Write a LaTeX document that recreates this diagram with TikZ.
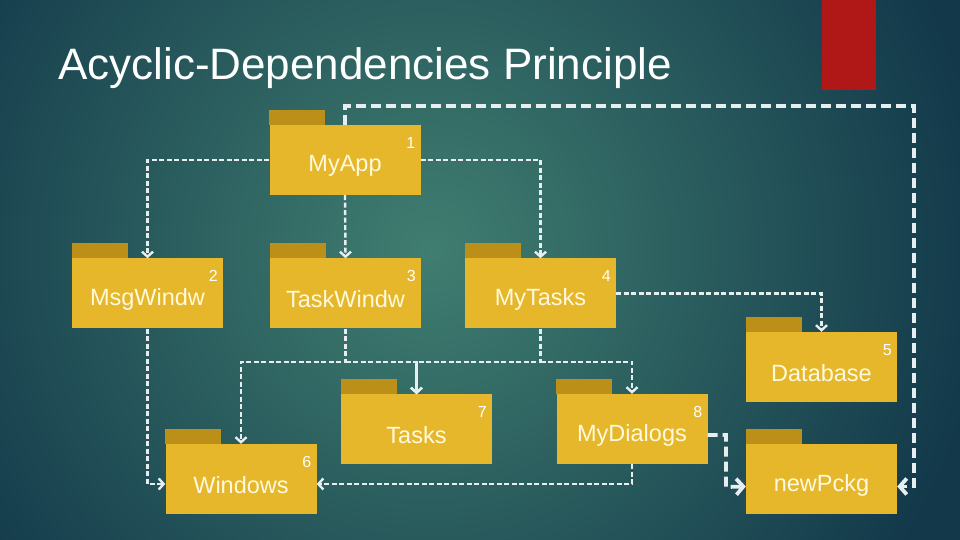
\documentclass[tikz,border=0pt]{standalone}
\usepackage{fontspec}
\setmainfont{Liberation Sans}
\usetikzlibrary{arrows.meta,calc}
\definecolor{bgout}{RGB}{18,56,74}
\definecolor{bgin}{RGB}{64,126,112}
\definecolor{fbody}{RGB}{230,183,42}
\definecolor{ftab}{RGB}{187,143,24}
\definecolor{ftext}{RGB}{255,250,222}
\definecolor{conn}{RGB}{230,238,240}
\definecolor{redbar}{RGB}{176,24,24}
\tikzset{
  folderbody/.style={fill=fbody, draw=none, minimum width=151pt, minimum height=70pt, inner sep=0pt},
  foldertab/.style={fill=ftab, draw=none},
  foldertext/.style={text=ftext, font=\fontsize{23.5}{28}\selectfont, inner sep=0pt},
  foldernum/.style={text=white, font=\fontsize{16}{18}\selectfont, inner sep=0pt},
  dep/.style={draw=conn, line width=2.4pt, dash pattern=on 5pt off 2.5pt, -{Straight Barb[length=5pt,width=11pt]}},
  depthick/.style={draw=conn, line width=3.8pt, dash pattern=on 10pt off 5pt, -{Straight Barb[length=7pt,width=16pt]}},
  titletext/.style={text=white!92!conn, font=\fontsize{44}{50}\selectfont, inner sep=0pt, anchor=base west}
}
\newcommand{\mkfolder}[5]{%
  \node[folderbody] (#1) at (#2) {};
  \fill[foldertab] ($(#1.north west)$) rectangle ++(56pt,15pt);
  \node[foldertext] (#1-t) at ([yshift=-6pt]#1.center) {#3};
  \node[foldernum] (#1-n) at ([xshift=-10pt,yshift=-18pt]#1.north east) {#4};
}
\begin{document}
\begin{tikzpicture}[x=1pt,y=1pt]
\useasboundingbox (0,0) rectangle (960,540);
\fill[bgout] (0,0) rectangle (960,540);
\begin{scope}
  \clip (0,0) rectangle (960,540);
  \shade[inner color=bgin, outer color=bgout] (430,290) circle (560);
\end{scope}
\fill[redbar] (822,450) rectangle (876,540);
\node[titletext] (title) at (58,460) {Acyclic-Dependencies Principle};

\mkfolder{myapp}{345,380}{MyApp}{1}{}
\mkfolder{msg}{147.5,246.5}{MsgWindw}{2}{}
\mkfolder{taskw}{345.5,246.5}{TaskWindw}{3}{}
\mkfolder{mytasks}{540.5,246.5}{MyTasks}{4}{}
\mkfolder{db}{821.5,173}{Database}{5}{}
\mkfolder{win}{241,61}{Windows}{6}{}
\mkfolder{tasks}{416.5,110.5}{Tasks}{7}{}
\mkfolder{dlg}{632,111}{MyDialogs}{8}{}
\mkfolder{newp}{821.5,60.5}{newPckg}{}{}

\coordinate (j1) at (345.5,178);
\coordinate (j2) at (540.5,178);
\coordinate (k) at (914,434);
\coordinate (c8) at (726,53);

\draw[dep] (myapp.west) -| (msg.north);
\draw[dep] (myapp.south) -- (taskw.north);
\draw[dep] (myapp.east) -| (mytasks.north);
\draw[dep] (mytasks.east) -| (db.north);
\draw[dep] (taskw.south) -- (j1) -| (win.north);
\draw[dep] (j1) -| (tasks.north);
\draw[dep] (mytasks.south) -- (j2) -| (tasks.north);
\draw[dep] (j2) -| (dlg.north);
\draw[dep] (msg.south) |- ([yshift=-5pt]win.west);
\draw[dep] (dlg.south) |- ([yshift=-5pt]win.east);
\draw[depthick] ([yshift=-6pt]dlg.east) -| (c8) -- ([yshift=-7pt]newp.west);
\draw[depthick] (myapp.north) |- (k) |- ([yshift=-7pt]newp.east);
\end{tikzpicture}
\end{document}
